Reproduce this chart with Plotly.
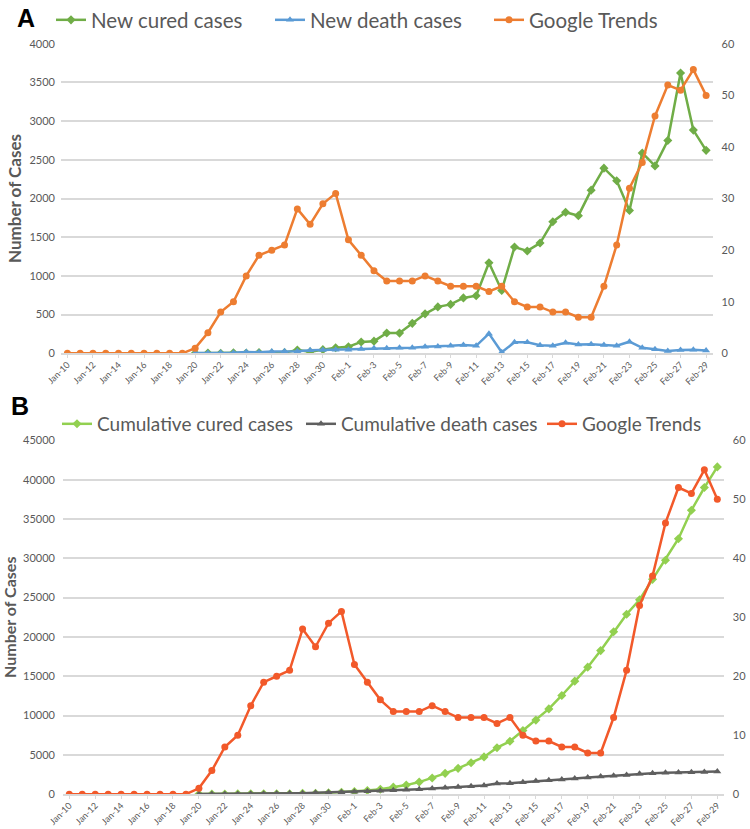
import plotly.graph_objects as go

# ---------------- data ----------------
categories = [f"Jan-{d}" for d in range(10, 32)] + [f"Feb-{d}" for d in range(1, 30)]
tick_labels = categories[::2]

google_trends = [0, 0, 0, 0, 0, 0, 0, 0, 0, 0,
                 1, 4, 8, 10, 15, 19, 20, 21, 28, 25, 29, 31,
                 22, 19, 16, 14, 14, 14, 15, 14, 13, 13, 13, 12, 13, 10, 9, 9, 8, 8, 7, 7,
                 13, 21, 32, 37, 46, 52, 51, 55, 50]

new_cured = [None] * 10 + [0, 3, 0, 6, 4, 11, 2, 9, 43, 21, 47, 72,
                           85, 147, 157, 262, 261, 387, 510, 600, 632, 716, 744, 1171, 812,
                           1373, 1323, 1425, 1701, 1824, 1779, 2109, 2393, 2231, 1846, 2589,
                           2422, 2750, 3622, 2885, 2623]

new_death = [None] * 10 + [3, 3, 8, 8, 16, 15, 24, 26, 26, 38, 43, 46,
                           45, 57, 64, 65, 73, 73, 86, 89, 97, 108, 97, 254, 13,
                           143, 142, 105, 98, 136, 114, 118, 109, 97, 150, 71,
                           52, 29, 44, 47, 35]

cum_cured = [None] * 10 + [25, 28, 28, 34, 38, 49, 51, 60, 103, 124, 171, 243,
                           328, 475, 632, 892, 1153, 1540, 2050, 2649, 3281, 3996, 4740, 5911, 6723,
                           8096, 9419, 10844, 12552, 14376, 16155, 18264, 20659, 22888, 24734, 27323,
                           29745, 32495, 36117, 39002, 41625]

cum_death = [None] * 10 + [6, 9, 17, 25, 41, 56, 80, 106, 132, 170, 213, 259,
                           304, 361, 425, 490, 563, 636, 722, 811, 908, 1016, 1113, 1367, 1380,
                           1523, 1665, 1770, 1868, 2004, 2118, 2236, 2345, 2442, 2592, 2663,
                           2715, 2744, 2788, 2835, 2870]

left_ticks_a = [0, 500, 1000, 1500, 2000, 2500, 3000, 3500, 4000]
left_ticks_b = [0, 5000, 10000, 15000, 20000, 25000, 30000, 35000, 40000, 45000]
right_ticks = [0, 10, 20, 30, 40, 50, 60]

# ---------------- layout helpers ----------------
W, H = 750, 829
def PX(x):
    return x / W
def PY(y):
    return 1 - y / H

FONT = "Lato"
GREY = "#595959"
GRID = "#D9D9D9"

fig = go.Figure()

# Panel A
fig.add_trace(go.Scatter(x=categories, y=new_cured, name="New cured cases", mode="lines+markers",
                         line=dict(color="#70AD47", width=2.5), marker=dict(symbol="diamond", size=7),
                         xaxis="x", yaxis="y", legend="legend"))
fig.add_trace(go.Scatter(x=categories, y=new_death, name="New death cases", mode="lines+markers",
                         line=dict(color="#5B9BD5", width=2.5), marker=dict(symbol="triangle-up", size=7),
                         xaxis="x", yaxis="y", legend="legend2"))
fig.add_trace(go.Scatter(x=categories, y=google_trends, name="Google Trends", mode="lines+markers",
                         line=dict(color="#ED7D31", width=2.5), marker=dict(symbol="circle", size=7),
                         xaxis="x", yaxis="y2", legend="legend3"))

# Panel B
fig.add_trace(go.Scatter(x=categories, y=cum_cured, name="Cumulative cured cases", mode="lines+markers",
                         line=dict(color="#92D050", width=2.5), marker=dict(symbol="diamond", size=7),
                         xaxis="x2", yaxis="y3", legend="legend4"))
fig.add_trace(go.Scatter(x=categories, y=cum_death, name="Cumulative death cases", mode="lines+markers",
                         line=dict(color="#5F5F5F", width=2.5), marker=dict(symbol="triangle-up", size=7),
                         xaxis="x2", yaxis="y3", legend="legend5"))
fig.add_trace(go.Scatter(x=categories, y=google_trends, name="Google Trends", mode="lines+markers",
                         line=dict(color="#F2592A", width=2.5), marker=dict(symbol="circle", size=7),
                         xaxis="x2", yaxis="y4", legend="legend6"))

xcommon = dict(type="category", categoryorder="array", categoryarray=categories,
               range=[-0.5, len(categories) - 0.5], tickmode="array", tickvals=tick_labels,
               ticktext=tick_labels, tickangle=-45, tickfont=dict(family=FONT, size=9, color=GREY),
               showgrid=False, showline=True, linecolor=GRID, linewidth=1.5,
               ticks="outside", ticklen=3, tickcolor=GRID, zeroline=False, fixedrange=True,
               automargin=False, ticklabelstandoff=-2)

ycommon = dict(showgrid=True, gridcolor=GRID, gridwidth=1.5, zeroline=False, showline=False,
               tickfont=dict(family=FONT, size=11, color=GREY), ticks="", fixedrange=True,
               automargin=False, tickmode="array")

def leg(x, y, size):
    return dict(orientation="h", x=PX(x), y=PY(y), xanchor="left", yanchor="middle",
                font=dict(family=FONT, size=size, color=GREY), bgcolor="rgba(0,0,0,0)",
                itemwidth=30, borderwidth=0)

fig.update_layout(
    template="none",
    width=W, height=H,
    margin=dict(l=0, r=0, t=0, b=0),
    paper_bgcolor="white", plot_bgcolor="white",
    font=dict(family=FONT, color=GREY),
    xaxis=dict(domain=[PX(61), PX(712.5)], anchor="y", **xcommon),
    yaxis=dict(domain=[PY(351), PY(40)], range=[0, 4000], tickvals=left_ticks_a,
               ticktext=[str(v) for v in left_ticks_a],
               title=dict(text="<b>Number of Cases</b>", font=dict(family=FONT, size=17, color=GREY), standoff=3),
               ticklabelstandoff=5, **ycommon),
    yaxis2=dict(overlaying="y", side="right", range=[0, 60], tickmode="array", tickvals=right_ticks,
                showgrid=False, zeroline=False, tickfont=dict(family=FONT, size=11, color=GREY),
                ticklabelstandoff=8, fixedrange=True, anchor="x", automargin=False, ticks=""),
    xaxis2=dict(domain=[PX(62.8), PX(723.8)], anchor="y3", **xcommon),
    yaxis3=dict(domain=[PY(794), PY(438.5)], range=[0, 45000], tickvals=left_ticks_b,
                ticktext=[str(v) for v in left_ticks_b],
                title=dict(text="<b>Number of Cases</b>", font=dict(family=FONT, size=16, color=GREY), standoff=4),
                ticklabelstandoff=5, **ycommon),
    yaxis4=dict(overlaying="y3", side="right", range=[0, 60], tickmode="array", tickvals=right_ticks,
                showgrid=False, zeroline=False, tickfont=dict(family=FONT, size=11, color=GREY),
                ticklabelstandoff=8, fixedrange=True, anchor="x2", automargin=False, ticks=""),
    legend=leg(51, 16, 20.5),
    legend2=leg(270, 16, 20.5),
    legend3=leg(489, 16, 20.5),
    legend4=leg(57, 422, 19),
    legend5=leg(301, 422, 19),
    legend6=leg(542, 422, 19),
    showlegend=True,
    annotations=[
        dict(text="<b>A</b>", x=PX(15), y=PY(14), xref="paper", yref="paper", xanchor="left",
             yanchor="middle", showarrow=False, font=dict(family="Liberation Sans", size=25, color="black")),
        dict(text="<b>B</b>", x=PX(9), y=PY(404), xref="paper", yref="paper", xanchor="left",
             yanchor="middle", showarrow=False, font=dict(family="Liberation Sans", size=25, color="black")),
    ],
)

# remove the browser's default 8 px body margin so the figure fills the window exactly
fig.write_html("out.html", config={"displayModeBar": False},
               post_script="document.body.style.margin='0';")
